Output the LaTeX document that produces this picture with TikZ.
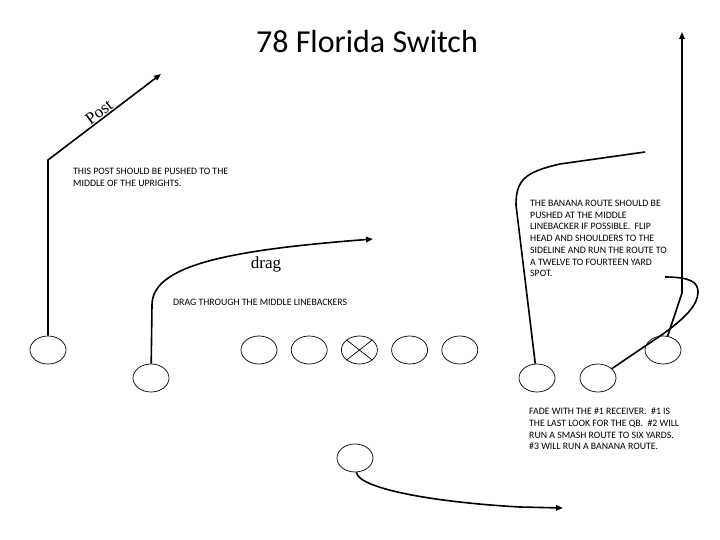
\documentclass[tikz,border=0pt]{standalone}
\usepackage{fontspec}
\setmainfont{Carlito}
\newfontfamily\handfont{Liberation Serif}
\usetikzlibrary{shapes.geometric, positioning, arrows.meta}

\begin{document}
\begin{tikzpicture}[x=1pt, y=-1pt, >={Triangle[length=7pt,width=5.5pt]},
    player/.style={ellipse, draw, line width=0.7pt, minimum width=36pt, minimum height=28pt, inner sep=0pt},
    route/.style={line width=1.6pt},
    note/.style={font=\fontsize{9.8}{11.7}\selectfont, align=left, anchor=north west, inner sep=0pt},
    routename/.style={font=\handfont\fontsize{17}{17}\selectfont}]
    \useasboundingbox (0,0) rectangle (720,540);
    \node[font=\fontsize{32}{36}\selectfont] (title) at (367,42) {78 Florida Switch};

    % Line
    \node[player] (lt) at (259,350) {};
    \node[player] (lg) [right=13.5pt of lt] {};
    \node[player] (c) [right=13.5pt of lg] {};
    \node[player] (rg) [right=13.5pt of c] {};
    \node[player] (rt) [right=13.5pt of rg] {};
    \draw[line width=0.7pt] (c.north west) -- (c.south east) (c.north east) -- (c.south west);
    \node[player] (qb) at (355,458) {};
    % Receivers
    \node[player] (lx) at (48,350) {};
    \node[player] (lz) at (151,378) {};
    \node[player] (r3) at (537,378) {};
    \node[player] (r2) at (598,378) {};
    \node[player] (r1) at (663,350) {};

    \coordinate (postbreak) at (48,160);
    \coordinate (posttip) at (161,74);
    \coordinate (dragbreak) at (152,305);
    \coordinate (dragtip) at (373,239);
    \coordinate (bananabreak) at (516,205);
    \coordinate (bananaend) at (645,152);
    \coordinate (fadebreak) at (682,293);
    \coordinate (fadetip) at (682,32);
    \coordinate (smashbreak) at (663,334);
    \coordinate (smashend) at (665,277);
    \coordinate (qbbreak) at (520,507);
    \coordinate (qbtip) at (563,508);

    % Left side
    \draw[route,->] (lx) -- (postbreak) -- node[routename, sloped, above, pos=0.49, inner sep=1pt] {Post} (posttip);
    \draw[route,->] (lz) -- (dragbreak) .. controls (152,265) and (230,250) .. (dragtip);
    \node[routename] (dragname) at (266,264) {drag};
    % Right side
    \draw[route] (r3) -- (bananabreak) .. controls (516,180) and (525,172) .. (560,164) -- (bananaend);
    \draw[route,->] (r1) -- (fadebreak) -- (fadetip);
    \draw[route] (r2) -- (smashbreak) .. controls (685,318) and (698,305) .. (698,292)
          .. controls (698,282) and (690,277) .. (smashend);
    % Quarterback
    \draw[route,->] (qb) .. controls (358,488) and (430,502) .. (qbbreak) -- (qbtip);

    % Notes
    \node[note] (postnote) at (73,168) {THIS POST SHOULD BE PUSHED TO THE\\MIDDLE OF THE UPRIGHTS.};
    \node[note] (dragnote) at (173,299) {DRAG THROUGH THE MIDDLE LINEBACKERS};
    \node[note] (banananote) at (530,200) {THE BANANA ROUTE SHOULD BE\\PUSHED AT THE MIDDLE\\LINEBACKER IF POSSIBLE.\ \ FLIP\\HEAD AND SHOULDERS TO THE\\SIDELINE AND RUN THE ROUTE TO\\A TWELVE TO FOURTEEN YARD\\SPOT.};
    \node[note] (fadenote) at (529,408) {FADE WITH THE \#1 RECEIVER.\ \ \#1 IS\\THE LAST LOOK FOR THE QB.\ \ \#2 WILL\\RUN A SMASH ROUTE TO SIX YARDS.\\\#3 WILL RUN A BANANA ROUTE.};
\end{tikzpicture}
\end{document}
